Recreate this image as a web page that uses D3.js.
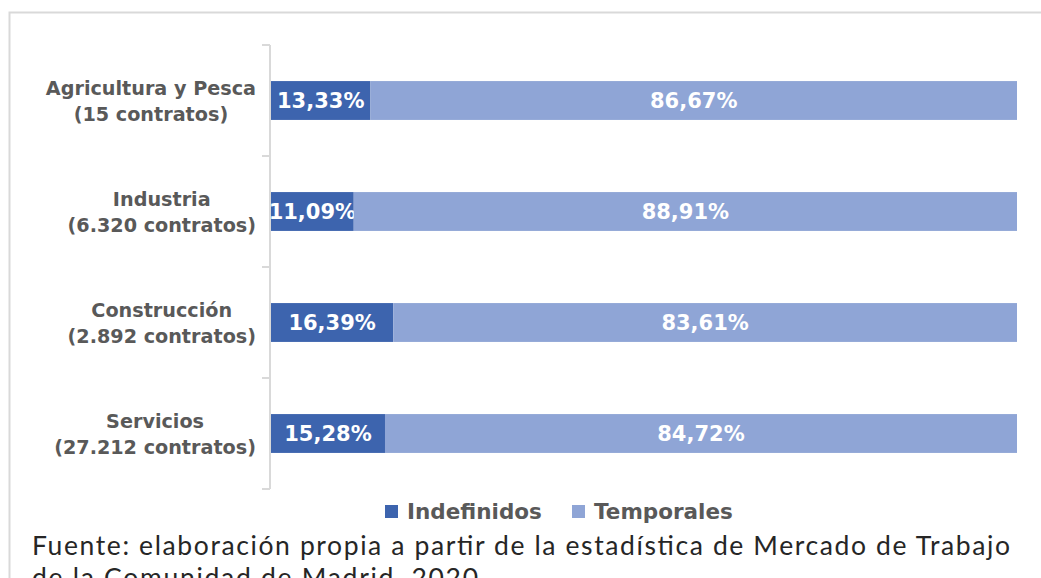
<!DOCTYPE html>
<html>
<head>
<meta charset="utf-8">
<script src="https://cdn.jsdelivr.net/npm/d3@7"></script>
<style>
  body { margin: 0; background: #fff; }
  svg { display: block; }
</style>
</head>
<body>
<svg id="chart" width="1041" height="578"></svg>
<script>
// datos
const categories = ['Agricultura y Pesca', 'Industria', 'Construcción', 'Servicios'];
const contracts = ['(15 contratos)', '(6.320 contratos)', '(2.892 contratos)', '(27.212 contratos)'];
const indefinidos = [13.33, 11.09, 16.39, 15.28];
const temporales = [86.67, 88.91, 83.61, 84.72];
const seriesNames = ['Indefinidos', 'Temporales'];
const colors = ['#3d64ae', '#8fa5d6'];
const source = ['Fuente: elaboración propia a partir de la estadística de Mercado de Trabajo',
                'de la Comunidad de Madrid, 2020'];
const sourceWidths = [978, 446];

const svg = d3.select('#chart');
const fmt = v => v.toFixed(2).replace('.', ',') + '%';

// marco del gráfico
svg.append('rect')
    .attr('x', 9.5).attr('y', 12.5)
    .attr('width', 1060).attr('height', 600)
    .attr('fill', 'none')
    .attr('stroke', '#d9d9d9')
    .attr('stroke-width', 2);

const yScale = d3.scaleBand()
    .domain(categories)
    .range([45, 489])
    .paddingInner(0.65)
    .paddingOuter(0.325);

const xScale = d3.scaleLinear()
    .domain([0, 100])
    .range([271, 1017]);

// eje de categorías (ticks entre categorías, como Excel)
const axisG = svg.append('g').attr('stroke', '#d9d9d9').attr('stroke-width', 2);
const gap = yScale.step() * yScale.paddingInner() / 2;
const bounds = categories.map(c => yScale(c) - gap);
bounds.push(yScale(categories[categories.length - 1]) + yScale.bandwidth() + gap);
axisG.append('line')
    .attr('x1', 270).attr('x2', 270)
    .attr('y1', bounds[0]).attr('y2', bounds[bounds.length - 1]);
axisG.selectAll('line.tick')
    .data(bounds)
    .join('line')
    .attr('class', 'tick')
    .attr('x1', 262).attr('x2', 270)
    .attr('y1', d => d).attr('y2', d => d);

// barras
const rows = categories.map((c, i) => ({ cat: c, vals: [indefinidos[i], temporales[i]] }));

const rowG = svg.selectAll('g.row')
    .data(rows)
    .join('g')
    .attr('class', 'row');

rowG.each(function (d) {
    const g = d3.select(this);
    let acc = 0;
    d.vals.forEach((v, j) => {
        const x0 = xScale(acc), x1 = xScale(acc + v);
        g.append('rect')
            .attr('x', x0)
            .attr('y', yScale(d.cat))
            .attr('width', x1 - x0)
            .attr('height', yScale.bandwidth())
            .attr('fill', colors[j]);
        g.append('text')
            .attr('x', (x0 + x1) / 2)
            .attr('y', yScale(d.cat) + yScale.bandwidth() / 2 + 7.5)
            .attr('text-anchor', 'middle')
            .attr('fill', '#fff')
            .attr('font-family', 'DejaVu Sans')
            .attr('font-weight', 'bold')
            .attr('font-size', 21)
            .text(fmt(v));
        acc += v;
    });
});

// etiquetas de categoría: bloque alineado a la derecha, líneas centradas
const labelG = svg.append('g')
    .attr('font-family', 'DejaVu Sans')
    .attr('font-weight', 'bold')
    .attr('font-size', 19.2)
    .attr('fill', '#595959');

categories.forEach((c, i) => {
    const cy = yScale(c) + yScale.bandwidth() / 2;
    const t = labelG.append('text').attr('text-anchor', 'middle');
    const l1 = t.append('tspan').attr('y', cy - 6).text(c);
    const l2 = t.append('tspan').attr('y', cy + 20).text(contracts[i]);
    const w = Math.max(l1.node().getComputedTextLength(), l2.node().getComputedTextLength());
    const cx = 256 - w / 2;
    l1.attr('x', cx);
    l2.attr('x', cx);
});

// leyenda
const legendItems = [{ x: 385 }, { x: 572 }];
const legend = svg.append('g');
legendItems.forEach((d, i) => {
    legend.append('rect')
        .attr('x', d.x).attr('y', 505)
        .attr('width', 13).attr('height', 13)
        .attr('fill', colors[i]);
    legend.append('text')
        .attr('x', d.x + 22).attr('y', 519)
        .attr('font-family', 'DejaVu Sans')
        .attr('font-weight', 'bold')
        .attr('font-size', 21.5)
        .attr('fill', '#595959')
        .text(seriesNames[i]);
});

// fuente
svg.append('g')
    .attr('font-family', 'Lato')
    .attr('font-size', 26.5)
    .attr('fill', '#262626')
    .selectAll('text')
    .data(source)
    .join('text')
    .attr('x', 32)
    .attr('y', (d, i) => 555 + i * 32)
    .attr('textLength', (d, i) => sourceWidths[i])
    .attr('lengthAdjust', 'spacing')
    .text(d => d);
</script>
</body>
</html>
